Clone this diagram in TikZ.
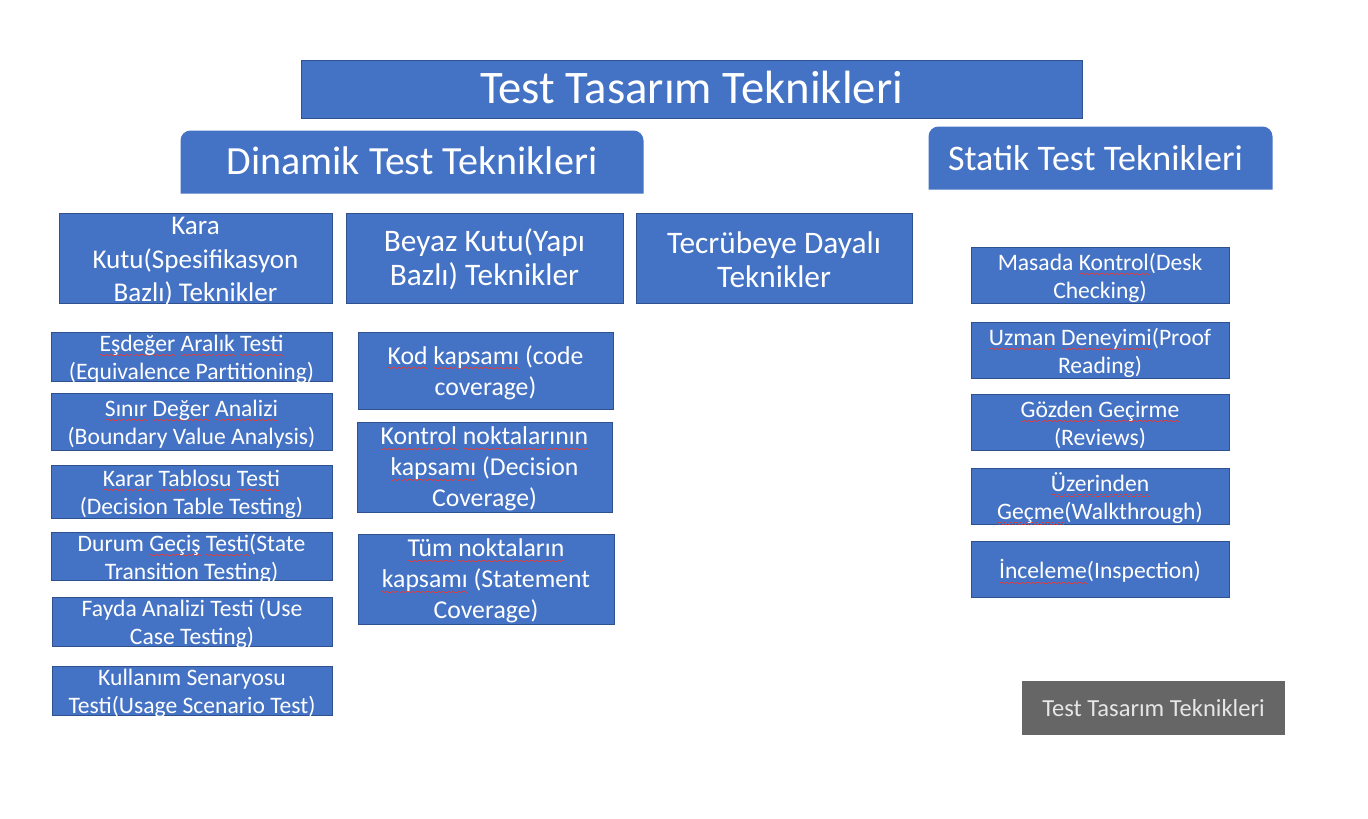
\documentclass[tikz,border=0pt]{standalone}
\usepackage{fontspec}
\setmainfont{Carlito}
\usetikzlibrary{backgrounds}
\definecolor{bx}{HTML}{4472C4}
\definecolor{bd}{HTML}{2F528F}
\definecolor{gb}{HTML}{666666}
\definecolor{gt}{HTML}{E6E6E6}
\definecolor{sqc}{HTML}{E03C3C}
\newsavebox\sqbox
\newcommand\sq[1]{\sbox\sqbox{#1}\rlap{\color{sqc}\raisebox{-2.8pt}{\hbox to \wd\sqbox{\xleaders\hbox{\rule{1.2pt}{0.6pt}\rule[-0.9pt]{1.2pt}{0.6pt}}\hfill}}}\usebox\sqbox}
\newcommand\bx[7][]{%
  \node[box,#1,minimum width={(#4-#2)*0.75pt},minimum height={(#5-#3)*0.75pt}] (#6) at ({(#2+#4)/2},{(#3+#5)/2}) {};
  \node[box,#1,boxtext,yshift=\tyv] (#6t) at (#6.center) {#7};}
\newcommand\topround[1]{%
  \fill[bx] (#1.south west) -- ([yshift=-7.5pt]#1.north west) arc[start angle=180,end angle=90,radius=7.5pt]
    -- ([xshift=-7.5pt]#1.north east) arc[start angle=90,end angle=0,radius=7.5pt] -- (#1.south east) -- cycle;}
\tikzset{
  ty/.store in=\tyv, ty=-1.9pt,
  box/.style={fill=bx, draw=bd, line width=0.75pt, text=white, inner sep=0pt, align=center},
  boxtext/.style={fill=none, draw=none},
  hdr/.style={fill=none, draw=none},
  fA/.style={font=\fontsize{35}{42}\selectfont, ty=1.5pt},
  fB/.style={font=\fontsize{30}{36}\selectfont, ty=0.75pt},
  fC/.style={font=\fontsize{27}{32}\selectfont, ty=0pt},
  fD/.style={font=\fontsize{20.3}{25}\selectfont, ty=-2.5pt},
  fE/.style={font=\fontsize{23.5}{25.5}\selectfont, ty=-1.1pt},
  fF/.style={font=\fontsize{17.7}{21}\selectfont},
  fG/.style={font=\fontsize{19.3}{23.2}\selectfont, ty=-1.5pt},
  greybox/.style={fill=gb, draw=none, text=gt, font=\fontsize{18.4}{22}\selectfont, ty=0pt},
}
\begin{document}
\begin{tikzpicture}[x=0.75pt,y=-0.75pt]
\useasboundingbox (0,0) rectangle (1368,818);
% top
\bx[fA]{301}{60}{1082}{118}{title}{Test Tasarım Teknikleri}
\bx[fB,hdr]{181}{131}{643}{193}{din}{Dinamik Test Teknikleri}
\bx[fC,hdr]{929}{127}{1272}{189}{sta}{Statik Test Teknikleri\hspace*{7.5pt}}
\begin{scope}[on background layer]
  \topround{din}
  \topround{sta}
\end{scope}
% second level
\bx[fD]{59}{213}{332}{303}{kara}{Kara\\Kutu(Spesifikasyon\\Bazlı) Teknikler}
\bx[fE]{346}{213}{623}{303}{beyaz}{Beyaz Kutu(Yapı\\Bazlı) Teknikler}
\bx[fE]{636}{213}{912}{303}{tec}{Tecrübeye Dayalı\\Teknikler}
% left column
\bx[fF]{51}{332}{332}{381}{esd}{\sq{Eşdeğer} \sq{Aralık} \sq{Testi}\\(Equivalence Partitioning)}
\bx[fF]{51}{393}{332}{450}{sin}{\sq{Sınır} \sq{Değer} \sq{Analizi}\\(Boundary Value Analysis)}
\bx[fF]{51}{465}{332}{518}{kar}{\sq{Karar} \sq{Tablosu} \sq{Testi}\\(Decision Table Testing)}
\bx[fF]{51}{532}{332}{580}{dur}{Durum \sq{Geçiş} \sq{Testi}(State\\Transition Testing)}
\bx[fF]{52}{597}{332}{646}{fay}{Fayda Analizi Testi (Use\\Case Testing)}
\bx[fF]{52}{666}{332}{715}{kul}{Kullanım Senaryosu\\Testi(Usage Scenario Test)}
% middle column
\bx[fG]{358}{332}{613}{409}{kod}{\sq{Kod} \sq{kapsamı} (code\\coverage)}
\bx[fG]{357}{422}{612}{512}{kon}{\sq{Kontrol} \sq{noktalarının}\\\sq{kapsamı} (Decision\\Coverage)}
\bx[fG]{358}{534}{614}{624}{tum}{\sq{Tüm} \sq{noktaların}\\\sq{kapsamı} (Statement\\Coverage)}
% right column
\bx[fF]{971}{247}{1229}{303}{mas}{Masada \sq{Kontrol}(Desk\\Checking)}
\bx[fF]{971}{322}{1229}{378}{uzm}{\sq{Uzman} \sq{Deneyimi}(Proof\\Reading)}
\bx[fF]{971}{394}{1229}{450}{goz}{\sq{Gözden} \sq{Geçirme}\\(Reviews)}
\bx[fF]{971}{468}{1229}{524}{uze}{\sq{Üzerinden}\\\sq{Geçme}(Walkthrough)}
\bx[fF]{971}{541}{1229}{597}{inc}{\sq{İnceleme}(Inspection)}
% caption box
\bx[greybox]{1022}{681}{1285}{735}{cap}{Test Tasarım Teknikleri}
\end{tikzpicture}
\end{document}
